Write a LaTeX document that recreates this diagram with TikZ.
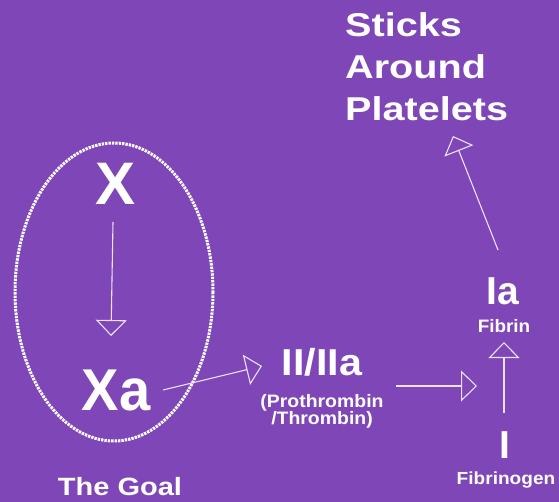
\documentclass[tikz,border=0pt]{standalone}
\usepackage{fontspec}
\usepackage{graphicx}
\setmainfont{Liberation Sans}
\usetikzlibrary{arrows.meta,shapes.geometric}
\definecolor{bg}{RGB}{127,70,184}
\definecolor{ln}{RGB}{236,226,246}
\newcommand{\widen}[2]{\scalebox{#1}[1]{#2}}
\tikzset{
  lbl/.style={text=white,inner sep=0pt,anchor=base},
  conn/.style={draw=ln,line width=1.1pt,-{Triangle[open,width=31pt,length=16pt,line width=1.1pt]}},
}
\newcommand{\fsz}[1]{\bfseries\fontsize{#1}{#1}\selectfont}
\begin{document}
\begin{tikzpicture}[x=1pt,y=-1pt]
\fill[bg] (0,0) rectangle (559,502);
\useasboundingbox (0,0) rectangle (559,502);
\draw[white,line width=3pt,dash pattern=on 2.4pt off 1pt] (114,292) ellipse [x radius=99, y radius=149];
\node[lbl,font=\fsz{60}] (x) at (116,205) {X};
\node[lbl,font=\fsz{59}] (xa) at (116,410) {\widen{0.95}{Xa}};
\node[lbl,font=\fsz{37.5}] (ii) at (322,375) {\widen{1.1}{II/IIa}};
\node[lbl,font=\fsz{18}] (p1) at (322,407) {\widen{1.08}{(Prothrombin}};
\node[lbl,font=\fsz{18}] (p2) at (322,424) {\widen{1.08}{/Thrombin)}};
\node[lbl,font=\fsz{39}] (ia) at (503,305) {Ia};
\node[lbl,font=\fsz{18}] (fibrin) at (504,332) {\widen{1.05}{Fibrin}};
\node[lbl,font=\fsz{39}] (i) at (505,458) {I};
\node[lbl,font=\fsz{17.5}] (fgen) at (506,484) {\widen{1.09}{Fibrinogen}};
\node[lbl,font=\fsz{25}] (goal) at (120,495) {\widen{1.16}{The Goal}};
\node[lbl,font=\fsz{33},anchor=base west] (s1) at (345,37) {\widen{1.2}{Sticks}};
\node[lbl,font=\fsz{33},anchor=base west] (s2) at (345,79) {\widen{1.2}{Around}};
\node[lbl,font=\fsz{33},anchor=base west] (s3) at (345,121) {\widen{1.2}{Platelets}};
\coordinate (a1) at (113,222); \coordinate (b1) at (111,336);
\coordinate (a2) at (163,390); \coordinate (b2) at (262,366);
\coordinate (a3) at (396,386); \coordinate (b3) at (477,386);
\coordinate (a4) at (504,413); \coordinate (b4) at (504,342);
\coordinate (a5) at (498,250); \coordinate (b5) at (453,136);
\draw[conn] (a1) -- (b1);
\draw[conn] (a2) -- (b2);
\draw[conn] (a3) -- (b3);
\draw[conn] (a4) -- (b4);
\draw[conn] (a5) -- (b5);
\end{tikzpicture}
\end{document}
